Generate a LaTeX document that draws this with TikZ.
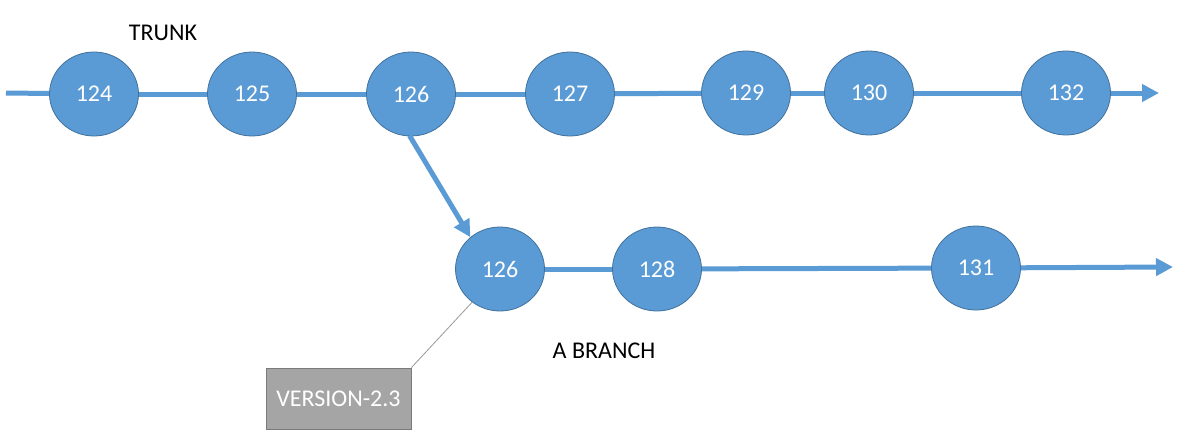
\documentclass[tikz,border=0pt]{standalone}
\usepackage{fontspec}
\setmainfont{Carlito}
\usetikzlibrary{arrows.meta,shapes.geometric}
\definecolor{oblue}{HTML}{5B9BD5}
\definecolor{oborder}{HTML}{41719C}
\definecolor{tagfill}{HTML}{A5A5A5}
\definecolor{tagborder}{HTML}{7A7A7A}
\tikzset{
  rev/.style={ellipse, minimum width=89pt, minimum height=84pt, inner sep=0pt,
    fill=oblue, draw=oborder, line width=0.8pt, text=white,
    font=\fontsize{24}{28}\selectfont},
  flow/.style={draw=oblue, line width=5pt},
  flowarrow/.style={flow, -{Triangle[length=17pt,width=17pt]}},
  tag/.style={rectangle, minimum width=145pt, minimum height=61pt, inner sep=0pt,
    fill=tagfill, draw=tagborder, line width=1pt, text=white,
    font=\fontsize{24}{28}\selectfont},
  lbl/.style={text=black, font=\fontsize{24}{28}\selectfont},
  leader/.style={draw=gray!80, line width=0.8pt}
}
\begin{document}
\begin{tikzpicture}[x=1pt,y=-1pt]
\useasboundingbox[fill=white] (0,0) rectangle (1188,442);
% trunk
\node[rev] (t124) at (94,94) {124};
\node[rev] (t125) at (252,94) {125};
\node[rev] (t126) at (411,94) {126};
\node[rev] (t127) at (570,94) {127};
\node[rev] (t129) at (746,93) {129};
\node[rev] (t130) at (869,93) {130};
\node[rev] (t132) at (1066,93) {132};
\coordinate (tstart) at (6,93);
\coordinate (tend) at (1159,93);
% branch
\node[rev] (b126) at (500,269) {126};
\node[rev] (b128) at (657,269) {128};
\node[rev] (b131) at (976,268) {131};
\coordinate (bend) at (1173,267);
% labels
\node[lbl] (trunk) at (163,33) {TRUNK};
\node[lbl] (branch) at (604,351) {A BRANCH};
\node[tag] (ver) at (338.5,398.5) {VERSION-2.3};
% connectors
\draw[flow] (tstart) -- (t124);
\draw[flow] (t124) -- (t125);
\draw[flow] (t125) -- (t126);
\draw[flow] (t126) -- (t127);
\draw[flow] (t127) -- (t129);
\draw[flow] (t129) -- (t130);
\draw[flow] (t130) -- (t132);
\draw[flowarrow] (t132) -- (tend);
\draw[flow] (b126) -- (b128);
\draw[flow] (b128) -- (b131);
\draw[flowarrow] (b131) -- (bend);
\draw[flowarrow, shorten <=-1pt] ([xshift=-1pt]t126.south) -- (b126.133);
\draw[leader] (b126.230) -- (ver.north east);
\end{tikzpicture}
\end{document}
